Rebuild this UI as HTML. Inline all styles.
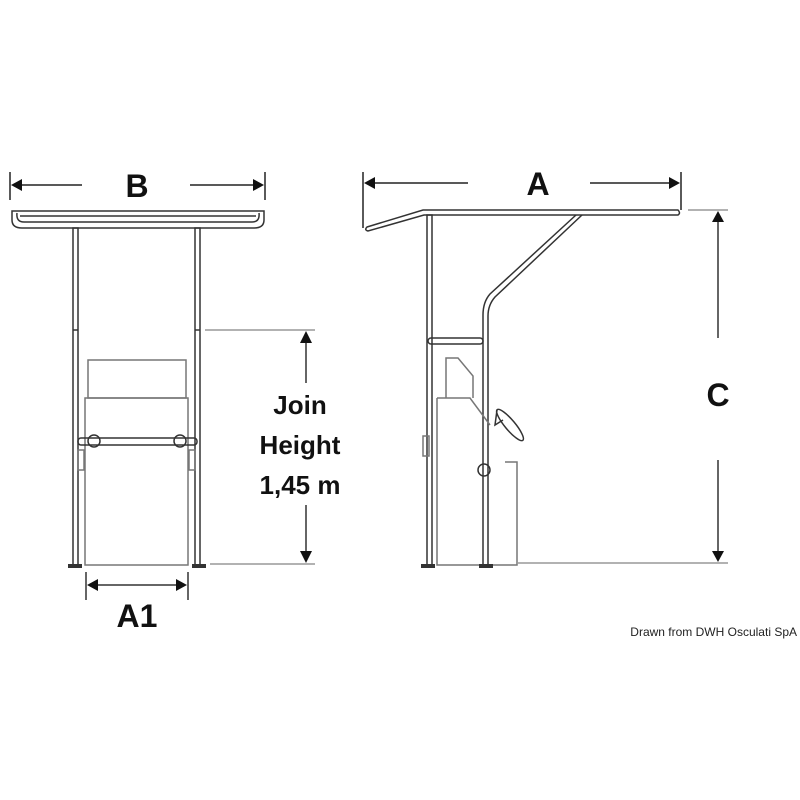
<!DOCTYPE html>
<html><head><style>body{margin:0;background:#fff}svg{display:block}</style></head>
<body>
<svg width="800" height="800" viewBox="0 0 800 800" xmlns="http://www.w3.org/2000/svg" font-family="Liberation Sans, sans-serif">
<g stroke="#222" fill="none" stroke-width="1.5">
<!-- B dimension -->
<line x1="10" y1="172" x2="10" y2="200"/><line x1="265" y1="172" x2="265" y2="200"/>
<line x1="14" y1="185" x2="82" y2="185"/><line x1="190" y1="185" x2="262" y2="185"/>
</g>
<polygon points="11,185 22,179 22,191" fill="#111"/><polygon points="264,185 253,179 253,191" fill="#111"/>
<text x="137" y="197" font-size="32" font-weight="bold" text-anchor="middle" fill="#111">B</text>
<!-- left canopy -->
<g stroke="#333" fill="none" stroke-width="1.5">
<path d="M12,211 H264 V220 Q264,228 254,228 H22 Q12,228 12,220 Z"/>
<path d="M17,213 Q16,222 24,222 H252 Q260,222 259,213"/>
<line x1="20" y1="216" x2="256" y2="216"/>
<!-- posts -->
<rect x="73" y="228" width="5" height="337"/><rect x="195" y="228" width="5" height="337"/>
<line x1="73" y1="330" x2="78" y2="330"/><line x1="195" y1="330" x2="200" y2="330"/>
<!-- console -->
<rect x="88" y="360" width="98" height="38" stroke="#777"/>
<rect x="85" y="398" width="103" height="167" stroke="#777"/>
<rect x="78" y="438" width="119" height="7" rx="3"/>
<circle cx="94" cy="441" r="6"/><circle cx="180" cy="441" r="6"/>
<rect x="78" y="450" width="6" height="20" stroke="#777"/><rect x="189" y="450" width="6" height="20" stroke="#777"/>
<!-- join height -->
<line x1="205" y1="330" x2="315" y2="330" stroke="#666" stroke-width="1"/>
<line x1="210" y1="564" x2="315" y2="564" stroke="#666" stroke-width="1"/>
<line x1="306" y1="340" x2="306" y2="383"/><line x1="306" y1="505" x2="306" y2="555"/>
<!-- A1 -->
<line x1="86" y1="572" x2="86" y2="600"/><line x1="188" y1="572" x2="188" y2="600"/>
<line x1="90" y1="585" x2="184" y2="585"/>
</g>
<rect x="68" y="564" width="14" height="4" fill="#333"/><rect x="192" y="564" width="14" height="4" fill="#333"/>
<polygon points="306,331 300,343 312,343" fill="#111"/><polygon points="306,563 300,551 312,551" fill="#111"/>
<polygon points="87,585 98,579 98,591" fill="#111"/><polygon points="187,585 176,579 176,591" fill="#111"/>
<g font-size="26" font-weight="bold" text-anchor="middle" fill="#111">
<text x="300" y="414">Join</text><text x="300" y="454">Height</text><text x="300" y="494">1,45 m</text>
</g>
<text x="137" y="627" font-size="32" font-weight="bold" text-anchor="middle" fill="#111">A1</text>
<!-- A dimension -->
<g stroke="#222" fill="none" stroke-width="1.5">
<line x1="363" y1="172" x2="363" y2="228"/><line x1="681" y1="172" x2="681" y2="210"/>
<line x1="367" y1="183" x2="468" y2="183"/><line x1="590" y1="183" x2="678" y2="183"/>
</g>
<polygon points="364,183 375,177 375,189" fill="#111"/><polygon points="680,183 669,177 669,189" fill="#111"/>
<text x="538" y="195" font-size="32" font-weight="bold" text-anchor="middle" fill="#111">A</text>
<!-- right canopy -->
<g stroke="#333" fill="none" stroke-width="1.5">
<path d="M367,227 L423,210 H678 Q681,213 678,215 H424 L368,231 Q364,230 367,227 Z"/>
<rect x="427" y="215" width="5" height="350"/>
<path d="M576,215 L490,294 Q483,302 483,315 V565 M582,215 L495,297 Q488,305 488,316 V565"/>
<rect x="428" y="338" width="55" height="6" rx="3"/>
<path d="M446,398 V358 L458,358 L473,376 V398" stroke="#777"/>
<path d="M437,398 H470 L490,425 M437,398 V565 H517 V462 H505" stroke="#777"/>
<ellipse cx="510" cy="425" rx="5" ry="20" transform="rotate(-40 510 425)"/>
<path d="M497,410 L495,425 L503,420" />
<circle cx="484" cy="470" r="6"/>
<rect x="423" y="436" width="6" height="20" stroke="#777"/>
<!-- C dimension -->
<line x1="688" y1="210" x2="728" y2="210" stroke="#666" stroke-width="1"/>
<line x1="518" y1="563" x2="728" y2="563" stroke="#666" stroke-width="1"/>
<line x1="718" y1="220" x2="718" y2="338"/><line x1="718" y1="460" x2="718" y2="555"/>
</g>
<rect x="421" y="564" width="14" height="4" fill="#333"/><rect x="479" y="564" width="14" height="4" fill="#333"/>
<polygon points="718,211 712,222 724,222" fill="#111"/><polygon points="718,562 712,551 724,551" fill="#111"/>
<text x="718" y="406" font-size="32" font-weight="bold" text-anchor="middle" fill="#111">C</text>
<text x="797" y="636" font-size="12" text-anchor="end" fill="#222">Drawn from DWH Osculati SpA</text>
</svg>
</body></html>
